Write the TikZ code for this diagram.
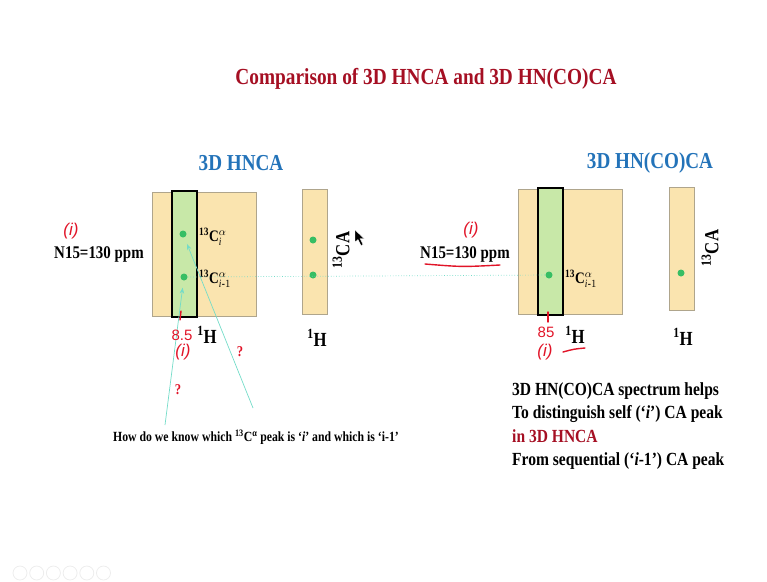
\documentclass[tikz,border=0pt]{standalone}
\usepackage{amsmath}
\usepackage{fontspec}
\setmainfont[FakeStretch=0.84]{Liberation Serif}
\newfontfamily\handfont{Liberation Sans}
\usetikzlibrary{arrows.meta}

\begin{document}
\begin{tikzpicture}[
  x=1pt, y=-1pt,
  font=\bfseries\fontsize{15}{17}\selectfont,
  titletext/.style={text=titleRed, font=\bfseries\fontsize{23}{26}\selectfont},
  headtext/.style={text=headBlue, font=\bfseries\fontsize{22.8}{25}\selectfont},
  plane/.style={draw=planeEdge, fill=planeFill, line width=0.8pt, inner sep=0pt, outer sep=0pt, anchor=north west},
  strip/.style={draw=black, fill=stripFill, line width=1.6pt, inner sep=0pt, outer sep=0pt, anchor=north west},
  peak/.style={circle, fill=peakGreen, inner sep=0pt, minimum size=7pt},
  peaklabel/.style={anchor=west, inner sep=0pt, font=\bfseries\fontsize{16}{18}\selectfont},
  axislabel/.style={inner sep=0pt, font=\bfseries\fontsize{20}{22}\selectfont},
  ppmtext/.style={inner sep=0pt, font=\bfseries\fontsize{17.8}{20}\selectfont},
  handtext/.style={inner sep=0pt, text=inkRed, font=\handfont\itshape\fontsize{17}{19}\selectfont},
  inkline/.style={draw=inkRed, line width=1.4pt, line cap=round},
  pointer/.style={draw=lineCyan, line width=0.7pt, -{Stealth[length=6pt,width=4.5pt]}, shorten >=7pt},
  linkline/.style={draw=lineCyan, line width=0.7pt, dotted},
]

\definecolor{titleRed}{RGB}{165,15,35}
\definecolor{headBlue}{RGB}{35,115,185}
\definecolor{planeFill}{RGB}{250,228,175}
\definecolor{planeEdge}{RGB}{175,165,140}
\definecolor{stripFill}{RGB}{200,232,168}
\definecolor{peakGreen}{RGB}{55,190,100}
\definecolor{lineCyan}{RGB}{115,220,200}
\definecolor{inkRed}{RGB}{225,20,40}
\definecolor{iconGray}{gray}{0.93}

\useasboundingbox (0,0) rectangle (767,581);

% Titles.
\node[titletext] (title) at (426,79) {Comparison of 3D HNCA and 3D HN(CO)CA};
\node[headtext] (hncaHead) at (241,163) {3D HNCA};
\node[headtext] (hncocaHead) at (650,163) {3D HN(CO)CA};

% 3D HNCA planes.
\node[plane, minimum width=104pt, minimum height=124pt] (hncaPlane) at (152,192) {};
\node[strip, minimum width=25pt, minimum height=126pt] (hncaStrip) at (172,191) {};
\node[plane, minimum width=25pt, minimum height=125pt] (hncaCut) at (302,189) {};

% 3D HN(CO)CA planes.
\node[plane, minimum width=104pt, minimum height=125pt] (hncocaPlane) at (518,189) {};
\node[strip, minimum width=25pt, minimum height=127pt] (hncocaStrip) at (538,188) {};
\node[plane, minimum width=25pt, minimum height=123pt] (hncocaCut) at (669,187) {};

% Peaks.
\node[peak] (selfPeak) at (183,234) {};
\node[peak] (seqPeak) at (184,277) {};
\node[peak] (cutSelf) at (313,240) {};
\node[peak] (cutSeq) at (313,275) {};
\node[peak] (cocaPeak) at (549,275) {};
\node[peak] (cocaCut) at (681,273) {};

% Peak labels.
\node[peaklabel] (selfLabel) at (199,237) {\textsuperscript{13}C$^{\alpha}_{\mathit{i}}$};
\node[peaklabel] (seqLabel) at (199,279) {\textsuperscript{13}C$^{\alpha}_{\mathit{i}\text{-}1}$};
\node[peaklabel] (cocaLabel) at (565,279) {\textsuperscript{13}C$^{\alpha}_{\mathit{i}\text{-}1}$};

% Axis labels.
\node[axislabel] (hncaH) at (207,335) {\textsuperscript{1}H};
\node[axislabel] (hncaCutH) at (317,338) {\textsuperscript{1}H};
\node[axislabel, rotate=90] (hncaCA) at (341,250) {\textsuperscript{13}CA};
\node[axislabel] (hncocaH) at (575,335) {\textsuperscript{1}H};
\node[axislabel] (hncocaCutH) at (683,337) {\textsuperscript{1}H};
\node[axislabel, rotate=90] (hncocaCA) at (710,248) {\textsuperscript{13}CA};

\node[ppmtext] (hncaPpm) at (99,254) {N15=130 ppm};
\node[ppmtext] (hncocaPpm) at (465,254) {N15=130 ppm};

% Link between the i-1 peaks.
\draw[linkline] (seqPeak) -- (cocaPeak);

% Question and pointers.
\node[font=\bfseries\fontsize{14}{16}\selectfont] (question) at (256,437)
  {How do we know which \textsuperscript{13}C\textsuperscript{α} peak is ‘\textit{i}’ and which is ‘i-1’};
\coordinate (askLow) at (165,425);
\coordinate (askHigh) at (253,408);
\draw[pointer] (askLow) -- (seqPeak);
\draw[pointer] (askHigh) -- (selfPeak);

% Summary.
\node[anchor=north west, align=left, inner sep=0pt, font=\bfseries\fontsize{18.5}{23.5}\selectfont] (summary) at (512,382)
  {3D HN(CO)CA spectrum helps\\
   To distinguish self (‘\textit{i}’) CA peak\\
   \textcolor{titleRed}{in 3D HNCA}\\
   From sequential (‘\textit{i}-1’) CA peak};

% Handwritten notes.
\node[handtext] (noteLeft) at (71,231) {(i)};
\node[handtext] (noteRight) at (471,230) {(i)};
\draw[inkline] (425,264) .. controls (462,267) .. (500,265);
\draw[inkline] (181,311) -- (180,320);
\node[handtext, font=\handfont\fontsize{15}{17}\selectfont] (shiftLeft) at (182,335) {8.5};
\node[handtext] (subLeft) at (183,352) {(i)};
\draw[inkline] (548,312) -- (548,322);
\node[handtext, font=\handfont\fontsize{15}{17}\selectfont] (shiftRight) at (546,332) {85};
\node[handtext] (subRight) at (545,352) {(i)};
\draw[inkline] (563,352) .. controls (574,349) .. (585,348);
\node[handtext, font=\bfseries\fontsize{15}{17}\selectfont] (askMarkA) at (240,352) {?};
\node[handtext, font=\bfseries\fontsize{15}{17}\selectfont] (askMarkB) at (178,390) {?};

% Mouse pointer.
\filldraw[black, draw=white, line width=0.3pt] (355,230) -- (355,242) -- (358,239.5) -- (361,245.5) -- (363,244.5) -- (360,238.5) -- (364,238.5) -- cycle;

% Player icons.
\foreach \i in {0,...,5} {\draw[iconGray, line width=0.8pt] (20+16.7*\i,573) circle (7);}

\end{tikzpicture}
\end{document}
